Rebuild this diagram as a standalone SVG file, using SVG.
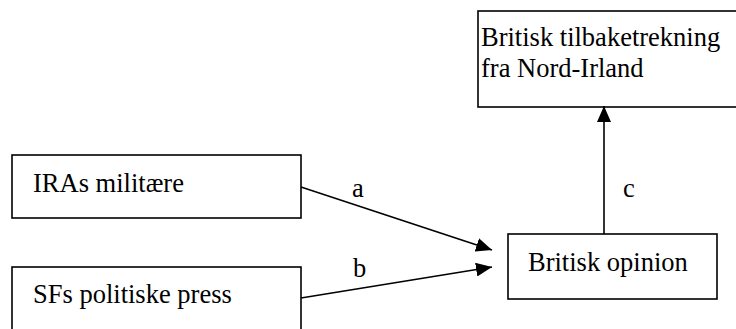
<svg xmlns="http://www.w3.org/2000/svg" width="736" height="329" viewBox="0 0 736 329">
<style>
.box{fill:#fff;stroke:#000;stroke-width:1.6}
.t{font-family:"Liberation Serif","Times New Roman",serif;font-size:26.5px;fill:#000}
.c{fill:none;stroke:#000;stroke-width:1.6}
</style>
<defs>
<marker id="ah" viewBox="0 0 16 14" refX="16" refY="7" markerWidth="16" markerHeight="14" markerUnits="userSpaceOnUse" orient="auto">
<path d="M0,0 L16,7 L0,14 Z" fill="#000"/>
</marker>
</defs>
<rect width="736" height="329" fill="#fff"/>
<g id="node-tilbaketrekning">
<rect class="box" x="478" y="11" width="270" height="96"/>
<text class="t" x="481" y="46">Britisk tilbaketrekning</text>
<text class="t" x="481" y="77">fra Nord-Irland</text>
</g>
<g id="node-ira">
<rect class="box" x="12" y="155" width="289" height="63"/>
<text class="t" x="33" y="192">IRAs militære</text>
</g>
<g id="node-sf">
<rect class="box" x="12" y="267" width="289" height="80"/>
<text class="t" x="33" y="303">SFs politiske press</text>
</g>
<g id="node-opinion">
<rect class="box" x="508" y="234" width="209" height="65"/>
<text class="t" x="528" y="271">Britisk opinion</text>
</g>
<g id="connectors">
<line class="c" x1="301" y1="187" x2="492" y2="250" marker-end="url(#ah)"/>
<line class="c" x1="301" y1="298" x2="492" y2="267" marker-end="url(#ah)"/>
<line class="c" x1="604" y1="234" x2="604" y2="106" marker-end="url(#ah)"/>
<text class="t" x="352" y="197">a</text>
<text class="t" x="353" y="277">b</text>
<text class="t" x="623" y="197">c</text>
</g>
</svg>
